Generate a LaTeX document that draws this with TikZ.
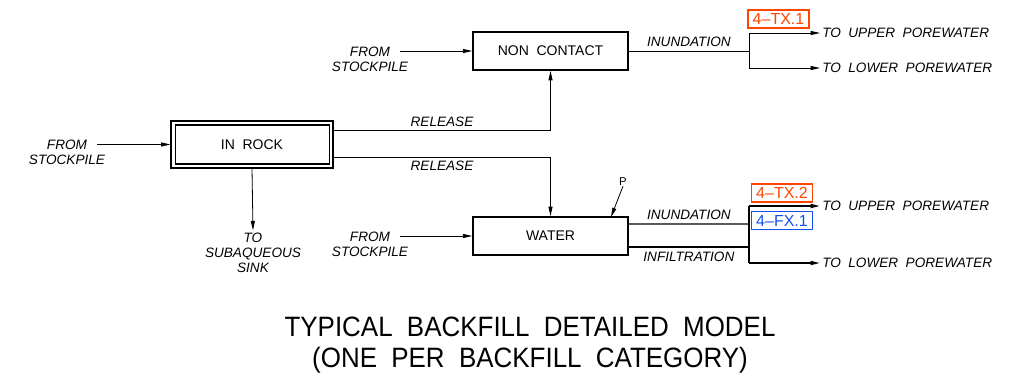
\documentclass[tikz,border=0pt]{standalone}
\usepackage{fontspec}
\setmainfont{Liberation Sans}
\usetikzlibrary{arrows.meta}
\definecolor{tagred}{HTML}{FF4500}
\definecolor{tagblue}{HTML}{1450F0}
\newcommand{\ws}{\hspace{0.55em}}
\begin{document}
\begin{tikzpicture}[x=0.75pt,y=-0.75pt,
 box/.style={draw,line width=1.4pt,minimum width=116pt,minimum height=28.5pt,inner sep=0pt,font=\fontsize{10.5}{12}\selectfont},
 lbl/.style={font=\fontsize{10.2}{11.3}\selectfont\itshape,inner sep=0pt,align=center},
 arr/.style={-{Triangle[length=7pt,width=3pt]},line width=0.6pt},
 tarr/.style={-{Triangle[length=7pt,width=3pt]},line width=1.2pt},
 ln/.style={line width=0.6pt},
 tln/.style={line width=1.2pt},
 tag/.style={draw,line width=1.1pt,font=\fontsize{12}{13}\selectfont,inner sep=0pt,minimum width=45.75pt,minimum height=13.5pt},
 ttl/.style={font=\fontsize{21}{22}\selectfont,inner sep=0pt}]
\useasboundingbox (0,0) rectangle (1013,379);
% boxes
\node[box] (nc) at (550.5,51) {NON\ws CONTACT};
\node[box] (wa) at (550.5,236) {WATER};
\node[draw,line width=0.8pt,minimum width=121.5pt,minimum height=35.25pt,inner sep=0pt,font=\fontsize{10.5}{12}\selectfont] (ir) at (252,144.5) {IN\ws ROCK};
\draw[line width=0.8pt] ([shift={(-3.2pt,-3.4pt)}]ir.north east) rectangle ([shift={(3.6pt,3.4pt)}]ir.south west);
% from stockpile labels
\node[lbl] (fs1) at (370,59.5) {FROM\\STOCKPILE};
\node[lbl] (fs2) at (370,244) {FROM\\STOCKPILE};
\node[lbl] (fs3) at (67,152.5) {FROM\\STOCKPILE};
\coordinate (fs1a) at (400,51);
\coordinate (fs2a) at (400,236);
\coordinate (fs3a) at (97,144.5);
\draw[arr] (fs1a) -- (nc.west);
\draw[arr] (fs2a) -- (wa.west);
\draw[arr] (fs3a) -- (ir.west);
% release
\draw[arr] ([yshift=10.9pt]ir.east) -| (nc.south) node[lbl,pos=0.25,above=2.5pt] (rl1) {RELEASE};
\draw[arr] ([yshift=-9.4pt]ir.east) -| (wa.north) node[lbl,pos=0.25,below=3pt] (rl2) {RELEASE};
% subaqueous
\node[lbl,anchor=north] (sub) at (253,233) {TO\\SUBAQUEOUS\\SINK};
\draw[arr] (ir.south) -- ([yshift=2pt]sub.north);
% P
\node[font=\fontsize{8.5}{9}\selectfont,inner sep=0pt] (p) at (623,182) {P};
\coordinate (pt) at (611,217);
\draw[arr] (p.south) -- (pt);
% top branch
\coordinate (b1) at (749,51);
\coordinate (b1u) at (749,33);
\coordinate (b1l) at (749,68);
\node[lbl,anchor=west] (tu1) at (822,33) {TO\ws UPPER\ws POREWATER};
\node[lbl,anchor=west] (tl1) at (822,68) {TO\ws LOWER\ws POREWATER};
\draw[ln] (nc.east) -- (b1) node[lbl,midway,above=3pt] (in1) {INUNDATION};
\draw[arr] (b1) -- (b1u) -- ([xshift=-1.5pt]tu1.west);
\draw[arr] (b1) -- (b1l) -- ([xshift=-1.5pt]tl1.west);
\node[tag,draw=tagred,text=tagred] (t1) at (778.5,19) {4--TX.1};
% bottom branch
\coordinate (b2i) at (749,224);
\coordinate (b2f) at (749,247);
\coordinate (b2u) at (749,206);
\coordinate (b2l) at (749,263);
\node[lbl,anchor=west] (tu2) at (822,206) {TO\ws UPPER\ws POREWATER};
\node[lbl,anchor=west] (tl2) at (822,263) {TO\ws LOWER\ws POREWATER};
\draw[line width=0.8pt,black!65] ([yshift=9pt]wa.east) -- (b2i) node[lbl,black,midway,above=3pt] (in2) {INUNDATION};
\draw[tln] ([yshift=-8.25pt]wa.east) -- (b2f) node[lbl,midway,below=3pt] (inf) {INFILTRATION};
\draw[tln] (b2u) -- (b2l);
\draw[tarr] (b2u) -- ([xshift=-1.5pt]tu2.west);
\draw[tarr] (b2l) -- ([xshift=-1.5pt]tl2.west);
\node[tag,draw=tagred,text=tagred] (t2) at (782,193) {4--TX.2};
\node[tag,draw=tagblue,text=tagblue] (t3) at (782,220.5) {4--FX.1};
% title
\node[ttl] (title1) at (530,327) {\scalebox{0.927}[1]{TYPICAL\ws BACKFILL\ws DETAILED\ws MODEL}};
\node[ttl] (title2) at (530,360) {\scalebox{0.927}[1]{(ONE\ws PER\ws BACKFILL\ws CATEGORY)}};
\end{tikzpicture}
\end{document}
